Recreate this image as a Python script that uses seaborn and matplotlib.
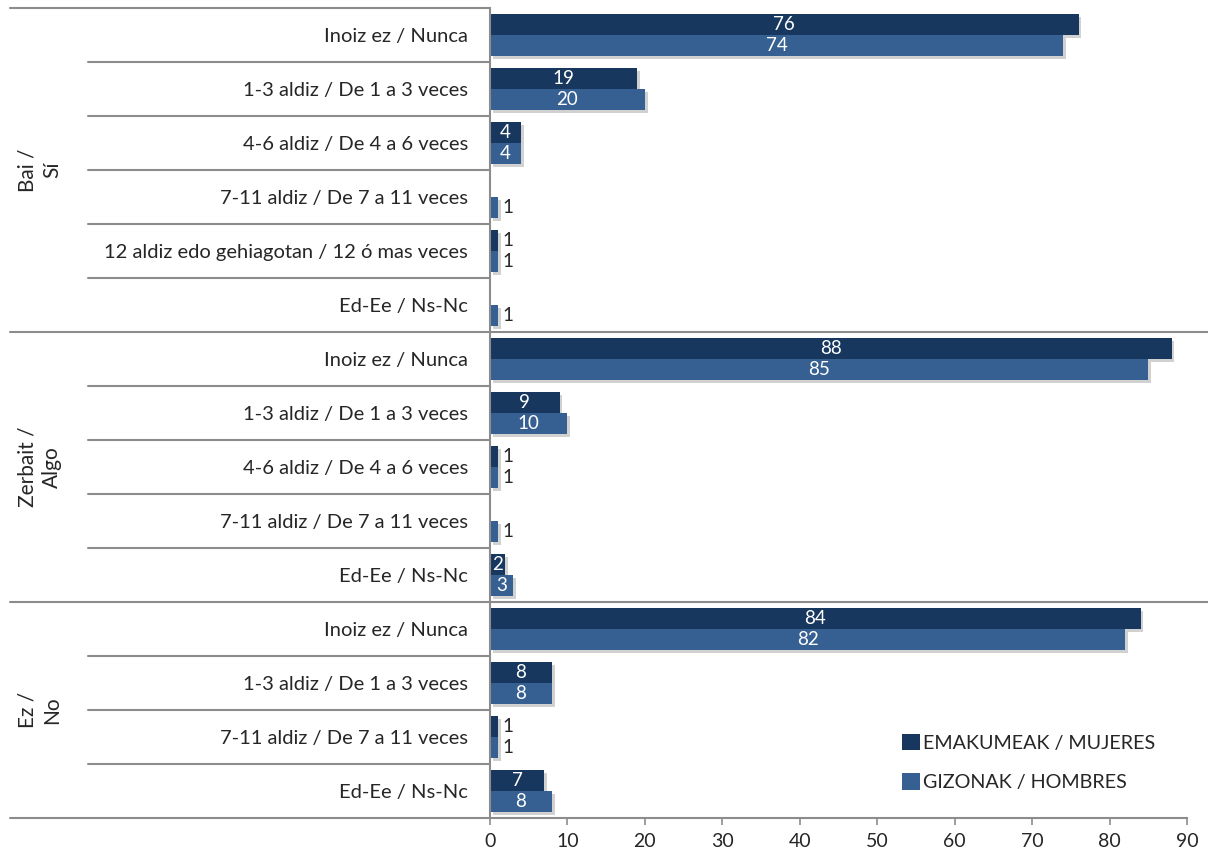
import numpy as np
import pandas as pd
import matplotlib
matplotlib.use("Agg")
import matplotlib.pyplot as plt
import matplotlib.patheffects as pe
import matplotlib.transforms as mtransforms
import seaborn as sns

# -------------------------
# DATA
# -------------------------
groups = ["Bai /\nSí", "Zerbait /\nAlgo", "Ez /\nNo"]
group_sizes = [6, 5, 4]
categories = [
    "Inoiz ez / Nunca",
    "1-3 aldiz / De 1 a 3 veces",
    "4-6 aldiz / De 4 a 6 veces",
    "7-11 aldiz / De 7 a 11 veces",
    "12 aldiz edo gehiagotan / 12 ó mas veces",
    "Ed-Ee / Ns-Nc",
    "Inoiz ez / Nunca",
    "1-3 aldiz / De 1 a 3 veces",
    "4-6 aldiz / De 4 a 6 veces",
    "7-11 aldiz / De 7 a 11 veces",
    "Ed-Ee / Ns-Nc",
    "Inoiz ez / Nunca",
    "1-3 aldiz / De 1 a 3 veces",
    "7-11 aldiz / De 7 a 11 veces",
    "Ed-Ee / Ns-Nc",
]
women = [76, 19, 4, 0, 1, 0, 88, 9, 1, 0, 2, 84, 8, 1, 7]
men = [74, 20, 4, 1, 1, 1, 85, 10, 1, 1, 3, 82, 8, 1, 8]
series = ["EMAKUMEAK / MUJERES", "GIZONAK / HOMBRES"]
colors = ["#17375E", "#376092"]
x_ticks = list(range(0, 100, 10))

# -------------------------
# Long-form table
# -------------------------
keys = [f"{i:02d}" for i in range(len(categories))]
df = pd.DataFrame({
    "key": keys * 2,
    "value": women + men,
    "sex": [series[0]] * len(keys) + [series[1]] * len(keys),
})

# -------------------------
# Plot
# -------------------------
sns.set_style("white")
plt.rcParams["font.family"] = ["Lato", "DejaVu Sans"]
TXT = "#262626"
GRID = "#8c8c8c"

fig = plt.figure(figsize=(12.08, 8.56), dpi=100)
ax = fig.add_axes([490 / 1208, 1 - 818 / 856, 697 / 1208, 810 / 856])

sns.barplot(
    data=df, x="value", y="key", hue="sex", order=keys, hue_order=series,
    palette=colors, orient="h", width=0.78, ax=ax, saturation=1,
    edgecolor="none", linewidth=0, legend=True,
)

shadow = [pe.SimplePatchShadow(offset=(2, -2), shadow_rgbFace="#000000", alpha=0.18),
          pe.Normal()]
for p in ax.patches:
    if p.get_width() > 0:
        p.set_path_effects(shadow)

# value labels
for cont in ax.containers:
    for bar in cont:
        v = bar.get_width()
        if v <= 0:
            continue
        yc = bar.get_y() + bar.get_height() / 2
        if v >= 2:
            ax.text(v / 2, yc, f"{v:.0f}", ha="center", va="center",
                    color="white", fontsize=13.5)
        else:
            ax.text(v + 0.6, yc, f"{v:.0f}", ha="left", va="center",
                    color=TXT, fontsize=13.5)

ax.set_xlim(0, 90)
ax.set_ylim(len(keys) - 0.5, -0.5)
ax.set_xticks(x_ticks)
ax.set_xticklabels([str(t) for t in x_ticks], fontsize=14, color=TXT)
ax.set_yticks(range(len(keys)))
ax.set_yticklabels(categories, fontsize=14.5, color=TXT)
ax.tick_params(axis="y", length=0, pad=16)
ax.tick_params(axis="x", length=5, width=1.2, color=GRID, direction="out",
               bottom=True, pad=6)
ax.set_xlabel("")
ax.set_ylabel("")

for s in ["top", "right"]:
    ax.spines[s].set_visible(False)
for s in ["left", "bottom"]:
    ax.spines[s].set_color(GRID)
    ax.spines[s].set_linewidth(1.5)

# multi-level category separators
trans = mtransforms.blended_transform_factory(ax.transAxes, ax.transData)
x_grp = (10 - 490) / 697
x_cat = (88 - 490) / 697
x_right = (1208 - 490) / 697
ax.plot([x_grp, 0], [-0.5, -0.5], transform=trans, color=GRID, lw=1.5, clip_on=False)
ax.plot([x_grp, 0], [len(keys) - 0.5] * 2, transform=trans, color=GRID, lw=1.5, clip_on=False)

start = 0
for gi, (g, n) in enumerate(zip(groups, group_sizes)):
    for k in range(1, n):
        yb = start + k - 0.5
        ax.plot([x_cat, 0], [yb, yb], transform=trans, color=GRID, lw=1.5, clip_on=False)
    if gi < len(groups) - 1:
        yb = start + n - 0.5
        ax.plot([x_grp, x_right], [yb, yb], transform=trans, color=GRID, lw=1.5, clip_on=False)
    ymid = start + (n - 1) / 2
    ax.text((40 - 490) / 697, ymid, g, transform=trans, rotation=90,
            ha="center", va="center", fontsize=15, color=TXT, linespacing=1.3)
    start += n

# legend
leg = ax.legend(loc="upper left", bbox_to_anchor=((884 - 490) / 697, 1 - (716 - 8) / 810),
                frameon=False, fontsize=14.2, labelspacing=1.1, handlelength=0.9,
                handleheight=0.9, handletextpad=0.2)
for t in leg.get_texts():
    t.set_color(TXT)

plt.savefig("out.png", dpi=100)
plt.close()
